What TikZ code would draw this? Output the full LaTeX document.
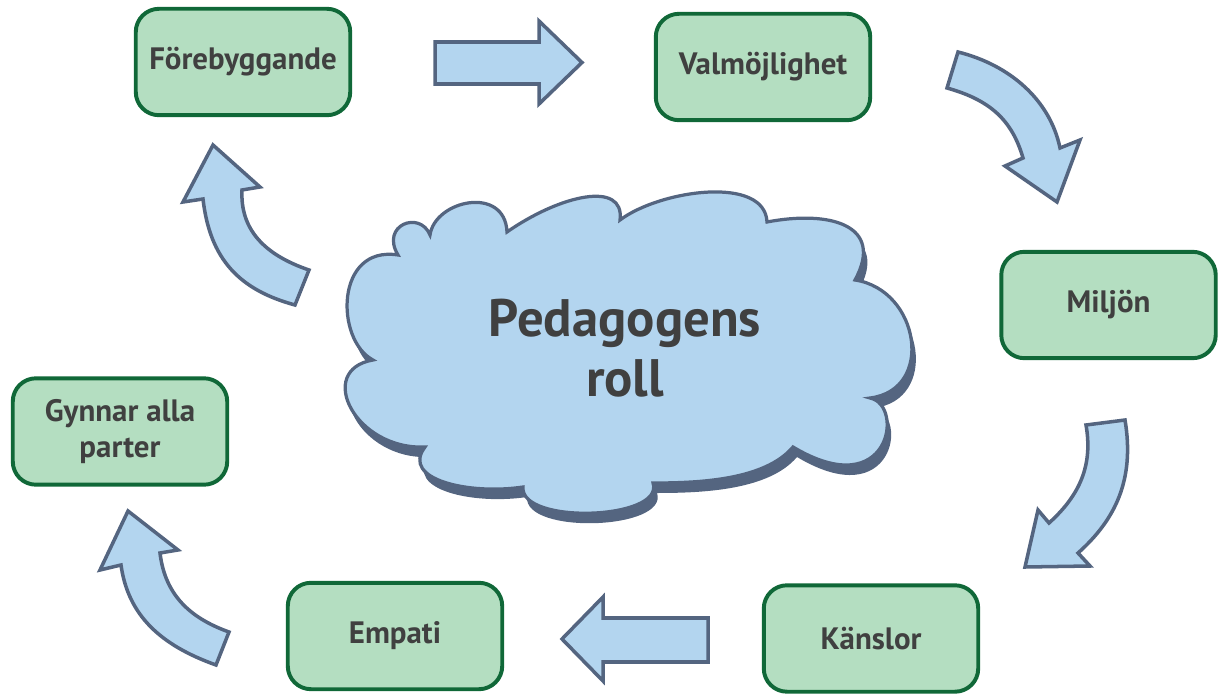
\documentclass[tikz,border=0pt]{standalone}
\usepackage{fontspec}
\setmainfont{PT Sans}
\definecolor{afill}{RGB}{179,213,239}
\definecolor{aline}{RGB}{84,101,128}
\definecolor{bfill}{RGB}{180,222,193}
\definecolor{bline}{RGB}{16,104,56}
\definecolor{txt}{RGB}{64,64,64}
\begin{document}
\begin{tikzpicture}[x=0.025cm,y=-0.025cm,
  box/.style={draw=bline,fill=bfill,line width=2.8pt,rounded corners=0.58cm,
    minimum width=5.36cm,minimum height=2.66cm,align=center,text=txt,
    font=\bfseries\fontsize{22}{25}\selectfont},
  blockarrow/.style={draw=aline,fill=afill,line width=2.5pt,line join=miter}]
\useasboundingbox (0,0) rectangle (1220,694);
% boxes
\node[box] (f) at (243,62) {Förebyggande};
\node[box] (v) at (763,67) {Valmöjlighet};
\node[box] (m) at (1108.5,305) {Miljön};
\node[box] (g) at (120,431.5) {Gynnar alla\\parter};
\node[box] (e) at (395,636) {Empati};
\node[box] (k) at (871,638.5) {Känslor};
\def\cloudpath{(373,360) .. controls (335,340) and (335,245) .. (398,255)
  .. controls (380,225) and (420,210) .. (430,235)
  .. controls (435,200) and (505,185) .. (507,232)
  .. controls (560,195) and (625,180) .. (620,220)
  .. controls (660,190) and (765,175) .. (767,222)
  .. controls (830,210) and (885,225) .. (855,280)
  .. controls (920,290) and (935,390) .. (870,398)
  .. controls (905,405) and (890,505) .. (793,447)
  .. controls (765,480) and (700,483) .. (653,483)
  .. controls (665,520) and (520,525) .. (523,487)
  .. controls (470,495) and (400,480) .. (425,447)
  .. controls (355,450) and (315,370) .. (373,360) -- cycle}
% cloud shadow
\fill[aline,shift={(4,10)}] \cloudpath;
% cloud
\draw[draw=aline,fill=afill,line width=2.3pt] \cloudpath;
\node[align=center,text=txt,font=\bfseries\fontsize{37.5}{42.5}\selectfont] (ct) at (625,348) {Pedagogens\\roll};
% straight arrows
\draw[blockarrow] (435,42) -- (539,42) -- (539,21) -- (582,62.5) -- (539,104) -- (539,84) -- (435,84) -- cycle;
\draw[blockarrow] (708,618) -- (603,618) -- (603,597) -- (562,639) -- (603,681) -- (603,662) -- (708,662) -- cycle;
% curved arrow top-left
\draw[blockarrow] (295,305) .. controls (240,290) and (210,260) .. (203,199)
  -- (183,202) -- (213,145) -- (260,187) -- (242,190)
  .. controls (240,230) and (265,255) .. (309,270) -- cycle;
% curved arrow bottom-left
\draw[blockarrow] (216,665) .. controls (160,645) and (128,615) .. (121,565)
  -- (100,570) -- (128,511) -- (178,550) -- (160,553)
  .. controls (165,595) and (190,618) .. (229,632) -- cycle;
% curved arrow top-right
\draw[blockarrow] (958,52) .. controls (1010,65) and (1050,100) .. (1060,148)
  -- (1080,140) -- (1057,202) -- (1005,166) -- (1023,158)
  .. controls (1012,120) and (990,100) .. (947,88) -- cycle;
% curved arrow right
\draw[blockarrow] (1125,420) .. controls (1135,480) and (1115,520) .. (1078,553)
  -- (1090,566) -- (1025,567) -- (1038,510) -- (1049,523)
  .. controls (1080,495) and (1093,465) .. (1086,425) -- cycle;
\end{tikzpicture}
\end{document}
